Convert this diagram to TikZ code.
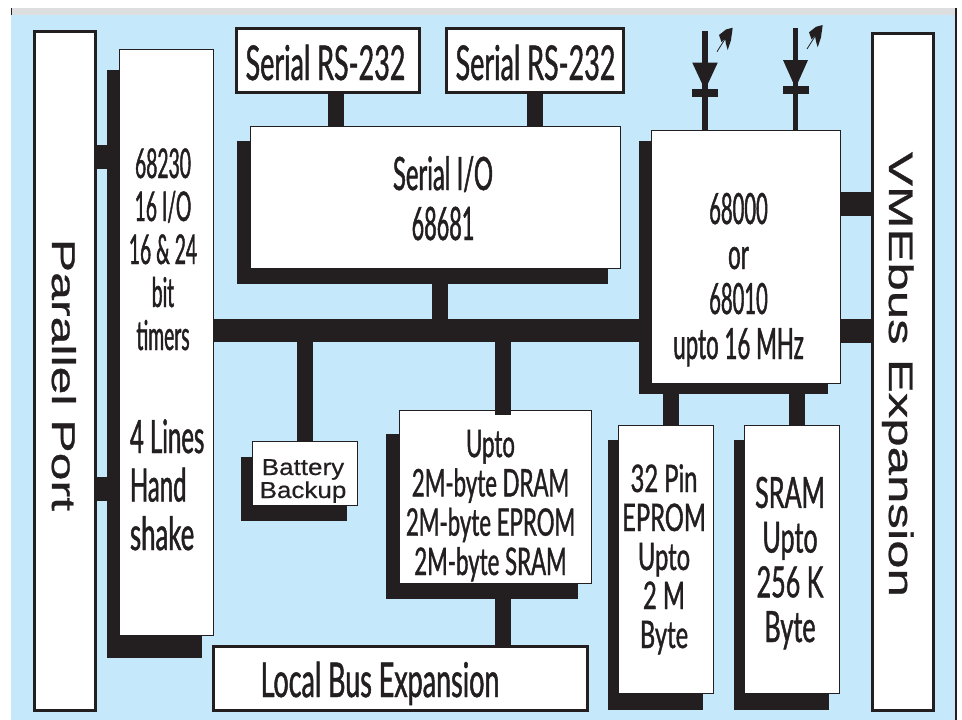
\documentclass[tikz,border=0pt]{standalone}
\usepackage{fontspec}
\setmainfont{Lato}
\newfontfamily\condA[FakeStretch=0.47,FakeBold=1]{Lato}
\newfontfamily\condB[FakeStretch=0.52,FakeBold=1]{Lato}
\newfontfamily\condC[FakeStretch=0.56,FakeBold=1]{Lato}
\newfontfamily\condD[FakeStretch=0.585,FakeBold=1]{Lato}
\newfontfamily\condE[FakeStretch=0.625,FakeBold=1]{Lato}
\newfontfamily\battfont[FakeStretch=1.13,FakeBold=0.5]{Liberation Sans}
\newfontfamily\parfont[FakeStretch=1.515,FakeBold=0.8]{Liberation Sans}
\newfontfamily\vmefont[FakeStretch=1.5,FakeBold=0.8]{Liberation Sans}
\definecolor{ink}{HTML}{231F20}
\definecolor{sky}{HTML}{C5E9FA}
\definecolor{strip}{HTML}{DDDEE0}
\newcommand\fs[2]{\fontsize{#1}{#2}\selectfont}
\tikzset{
  block/.style={rectangle,inner sep=0pt,outer sep=0pt,draw=ink,fill=white,line width=0.9pt},
  frame/.style={block,line width=3pt},
  shade/.style={rectangle,inner sep=0pt,outer sep=0pt,fill=ink},
  stem/.style={draw=ink,line width=16pt},
  tap/.style={draw=ink,line width=24pt},
  wire/.style={draw=ink,line width=5.5pt},
  label/.style={inner sep=0pt,outer sep=0pt,text=ink,align=center},
}
% \rc[style]{name}{x1}{y1}{x2}{y2}
\newcommand\rc[6][block]{%
  \node[#1,minimum width={(#5-#3)*1pt},minimum height={(#6-#4)*1pt}] (#2) at ({(#3+#5)/2},{(#4+#6)/2}) {};}
\newcommand\feather[2]{%
  \begin{scope}[shift={(#1,#2)}]
  \draw[ink,line width=0.8pt] (-15.7,24) -- (-7.5,11);
  \fill[ink] (0,0) -- (-6.7,1.8) -- (-13.7,7.3) -- (-11.2,14.3) -- (-7.7,10.8) -- (-6.7,16.3) -- (-5,22.3) -- (-1.7,12.3) -- cycle;
  \end{scope}}
\begin{document}
\begin{tikzpicture}[x=1pt,y=-1pt]
\useasboundingbox (0,0) rectangle (962,720);
\fill[white] (0,0) rectangle (962,720);
\fill[sky] (11,15) rectangle (955,720);
\fill[strip] (11,8) rectangle (955,15);
\fill[ink] (11,8) rectangle (12,15);
\fill[ink] (955,8) rectangle (956.5,720);
% shadows
\rc[shade]{timS}{107}{70}{202}{658}
\rc[shade]{sioS}{237}{141}{608}{284}
\rc[shade]{cpuS}{639}{141}{828}{394}
\rc[shade]{batS}{241}{457}{347}{521}
\rc[shade]{ramS}{386}{434}{577.5}{599}
\rc[shade]{epS}{608}{440}{703}{710}
\rc[shade]{srS}{734}{440}{828.5}{710}
% frames
\rc[frame]{par}{34.5}{31}{95}{710}
\rc[frame]{vme}{872.5}{33}{933}{710}
\rc[frame]{rsa}{236.5}{28.5}{419.5}{92}
\rc[frame]{rsb}{446.5}{28.5}{623.5}{92}
\rc[frame]{loc}{213.5}{646.5}{587.5}{710}
% bus
\rc[shade]{bus}{213}{319}{640}{342}
% blocks
\rc{tim}{119.5}{49.5}{213.5}{635}
\rc{sio}{250.5}{126}{620.5}{268}
\rc{cpu}{651}{130}{840}{383}
\rc{bat}{252}{441.5}{357}{505}
\rc{ram}{399.5}{410}{591}{583}
\rc{ep}{618.5}{425}{713}{693}
\rc{sr}{744.5}{425}{839}{693}
% connectors
\draw[stem] (rsa.south -| 336,0) -- (sio.north -| 336,0);
\draw[stem] (rsb.south -| 535,0) -- (sio.north -| 535,0);
\draw[stem] (sioS.south -| 439.5,0) -- (bus.north -| 439.5,0);
\draw[stem] (bus.south -| 304.5,0) -- (bat.north -| 304.5,0);
\draw[stem] (bus.south -| 503,0) -- (503,415);
\draw[stem] (ramS.south -| 503,0) -- (loc.north -| 503,0);
\draw[stem] (cpuS.south -| 671,0) -- (ep.north -| 671,0);
\draw[stem] (cpuS.south -| 796.5,0) -- (sr.north -| 796.5,0);
\draw[tap] (par.east |- 0,157) -- (timS.west |- 0,157);
\draw[tap] (par.east |- 0,489) -- (timS.west |- 0,489);
\draw[tap] (cpu.east |- 0,204) -- (vme.west |- 0,204);
\draw[tap] (cpu.east |- 0,331) -- (vme.west |- 0,331);
% LEDs
\coordinate (lA) at (705,31);
\coordinate (lB) at (795.3,28);
\draw[wire] (lA) -- (cpu.north -| lA);
\draw[wire] (lB) -- (cpu.north -| lB);
\fill[ink] (692.2,62.5) -- (717.8,62.5) -- (705,90) -- cycle;
\fill[ink] (692.2,89) rectangle (718,97);
\fill[ink] (783,60) -- (808,60) -- (795.5,88) -- cycle;
\fill[ink] (783,86) rectangle (808.5,94);
\feather{732.7}{27.7}
\feather{822.7}{25}
% labels
\node[label,font=\condC\fs{48}{48},anchor=base] (trsa) at (325.5,80) {Serial RS-232};
\node[label,font=\condC\fs{48}{48},anchor=base] (trsb) at (535.5,80) {Serial RS-232};
\node[label,font=\fs{46}{50},anchor=base] (tsio) at (443,240) {\condB Serial I/O\\\condA 68681};
\node[label,font=\condA\fs{41}{43},anchor=base] (ttim) at (163,350) {\condA 68230\\\condA 16 I/O\\\condA 16 \& 24\\\condA bit\\\condA timers};
\node[label,font=\condB\fs{46}{48.5},align=left,anchor=base west] (ths) at (130,550) {\condB 4 Lines\\\condB Hand\\\condC shake};
\node[label,font=\battfont\fs{23}{23},anchor=base] (tbat) at (303,498) {\battfont Battery\\\battfont Backup};
\node[label,font=\condD\fs{38}{39.3},anchor=base] (tram) at (490.5,575) {\condD Upto\\\condD 2M-byte DRAM\\\condD 2M-byte EPROM\\\condD 2M-byte SRAM};
\node[label,font=\condE\fs{38}{39},anchor=base] (tep) at (664,648) {\condE 32 Pin\\\condE EPROM\\\condE Upto\\\condE 2 M\\\condE Byte};
\node[label,font=\condD\fs{43}{44.7},anchor=base] (tsr) at (790,642) {\condD SRAM\\\condD Upto\\\condD 256 K\\\condD Byte};
\node[label,font=\condA\fs{43}{45},anchor=base] (tcpu) at (738.5,359) {\condA 68000\\\condB or\\\condA 68010\\\condB upto 16 MHz};
\node[label,font=\condC\fs{48}{48},anchor=base] (tloc) at (380,697) {Local Bus Expansion};
\node[label,font=\parfont\fs{33}{33},anchor=base,rotate=-90] (tpar) at (52,375) {Parallel Port};
\node[label,font=\vmefont\fs{34}{34},anchor=base,rotate=-90] (tvme) at (889,374.5) {VMEbus Expansion};
\end{tikzpicture}
\end{document}
